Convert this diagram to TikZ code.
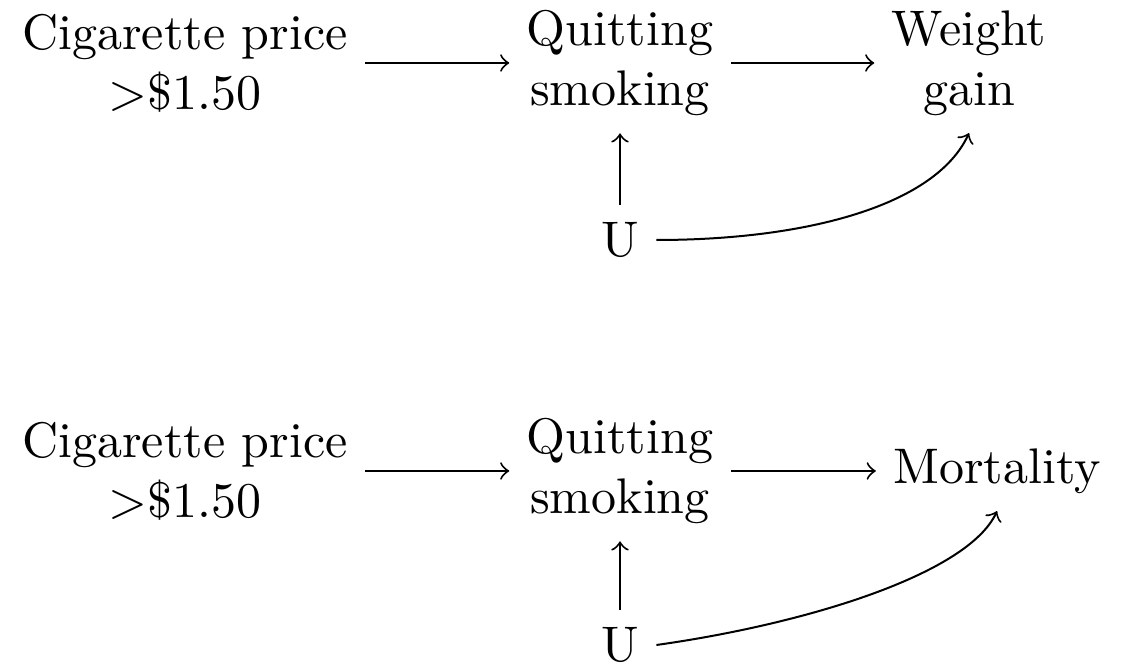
\documentclass[tikz,border=0pt]{standalone}
\begin{document}
\begin{tikzpicture}[x=0.2pt,y=-0.2pt,>=to,
  lbl/.style={align=center,inner sep=0.333em},
  arr/.style={->,line width=0.4pt}]
\useasboundingbox (0,0) rectangle (1134,664);
% top diagram
\node[lbl] (c1) at (185,63) {Cigarette price\\$>$\$1.50};
\node[lbl] (q1) at (620,63) {Quitting\\smoking};
\node[lbl] (w1) at (969,63) {Weight\\gain};
\node[lbl] (u1) at (620,240) {U};
\draw[arr] (c1) -- (q1);
\draw[arr] (q1) -- (w1);
\draw[arr] (u1) -- (q1);
\draw[arr] (u1.east) .. controls +(0:30pt) and +(-115:16pt) .. (w1.south);
% bottom diagram
\node[lbl] (c2) at (185,471) {Cigarette price\\$>$\$1.50};
\node[lbl] (q2) at (620,471) {Quitting\\smoking};
\node[lbl] (m2) at (997,471) {Mortality};
\node[lbl] (u2) at (620,645) {U};
\draw[arr] (c2) -- (q2);
\draw[arr] (q2) -- (m2);
\draw[arr] (u2) -- (q2);
\draw[arr] (u2.east) .. controls +(8:30pt) and +(-115:14pt) .. (m2.south);
\end{tikzpicture}
\end{document}
